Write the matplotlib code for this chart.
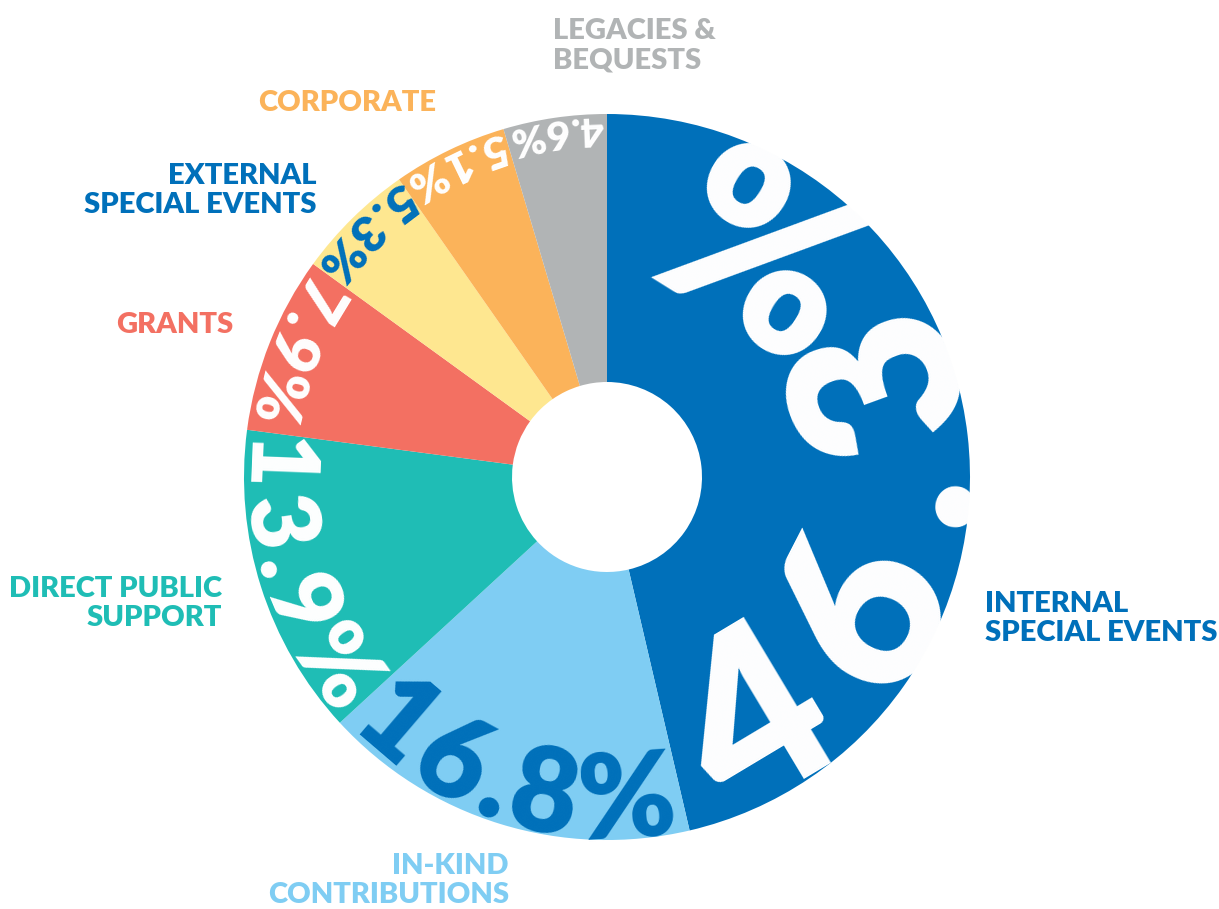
import numpy as np
import matplotlib
matplotlib.use("Agg")
import matplotlib.pyplot as plt
from matplotlib.font_manager import FontProperties, findfont
from matplotlib.ft2font import FT2Font

# data, clockwise from 12 o'clock
categories = ["INTERNAL\nSPECIAL EVENTS", "IN-KIND\nCONTRIBUTIONS", "DIRECT PUBLIC\nSUPPORT",
              "GRANTS", "EXTERNAL\nSPECIAL EVENTS", "CORPORATE", "LEGACIES &\nBEQUESTS"]
shares = [46.3, 16.8, 13.9, 7.9, 5.3, 5.1, 4.6]
pct_labels = ["46.3%", "16.8%", "13.9%", "7.9%", "5.3%", "5.1%", "4.6%"]

# styles
slice_colors = ["#0070BA", "#7FCDF3", "#1FBDB5", "#F37062", "#FEE790", "#FBB35A", "#B1B4B5"]
name_colors = ["#0070BA", "#7FCDF3", "#1FBDB5", "#F37062", "#0070BA", "#FBB35A", "#B1B4B5"]
pct_colors = ["white", "#0070BA", "white", "white", "#0070BA", "white", "white"]
pct_sizes = [168, 84, 68, 46, 36, 32, 29]       # points
pct_track = [0.08, 0.0, 0.04, 0.04, 0.04, 0.04, 0.04]  # extra spacing in em
pct_shift = [-4, 0, 0, 0, 0, 0, 0]               # degrees
# name label anchors (pixels from top-left), alignment
name_pos = [(985, 641, "left"), (509, 903, "right"), (222, 626, "right"), (233, 333, "right"),
            (317, 213, "right"), (258, 111, "left"), (553, 68, "left")]

W, H = 1219, 909
cx, cy = 607, H - 477
R, r_hole = 363, 95

fig = plt.figure(figsize=(W / 100, H / 100), dpi=100)
ax = fig.add_axes([0, 0, 1, 1])
wedges, _ = ax.pie(shares, colors=slice_colors, startangle=90, counterclock=False,
                   radius=R, center=(cx, cy), wedgeprops=dict(width=R - r_hole, linewidth=0))
ax.set_xlim(0, W)
ax.set_ylim(0, H)
ax.set_aspect("equal")
ax.axis("off")

px_per_pt = 100 / 72

# percent labels bent along the rim, tops facing the centre, clipped to their slice
theta = 90.0
for i, (wdg, val, lab) in enumerate(zip(wedges, shares, pct_labels)):
    fs, tr = pct_sizes[i], pct_track[i]
    span = val / sum(shares) * 360
    mid = np.radians(theta - span / 2 + pct_shift[i])
    theta -= span
    fp = FontProperties(family="Lato", weight="heavy", size=fs)
    font = FT2Font(findfont(fp))
    font.set_size(fs, 72)
    adv = [font.load_char(ord(c)).linearHoriAdvance / 65536 * px_per_pt for c in lab]
    em = fs * px_per_pt
    gap = tr * em
    r_b = R - 2
    r_c = r_b - 0.36 * em
    total = sum(adv) + gap * (len(lab) - 1)
    pos = -total / 2
    for c, a in zip(lab, adv):
        t = mid + (pos + a / 2) / r_c
        txt = ax.text(cx + r_b * np.cos(t), cy + r_b * np.sin(t), c, fontproperties=fp,
                      color=pct_colors[i], ha="center", va="baseline",
                      rotation=np.degrees(t) + 90, rotation_mode="anchor")
        txt.set_clip_path(wdg)
        pos += a + gap

# category names outside
for name, col, (x, y, ha) in zip(categories, name_colors, name_pos):
    ax.text(x, H - y, name, family="Lato", weight="heavy", fontsize=21, color=col,
            ha=ha, va="baseline", multialignment=ha, linespacing=1.15)

fig.savefig("out.png", dpi=100)
